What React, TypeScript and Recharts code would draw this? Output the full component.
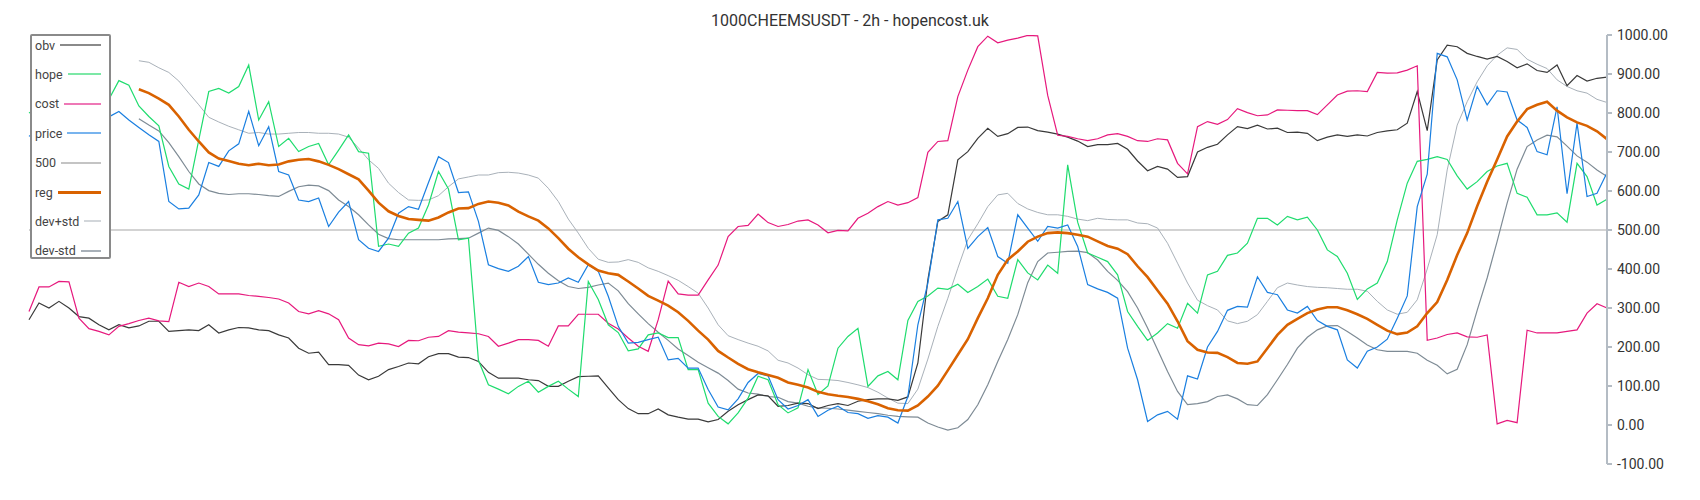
import React from "react";
import { Legend, Line, LineChart, XAxis, YAxis } from "recharts";

const TITLE = "1000CHEEMSUSDT - 2h - hopencost.uk";
const Y_TICKS = [-100, 0, 100, 200, 300, 400, 500, 600, 700, 800, 900, 1000];

// band / regression series start later than the rest
const LEAD = Array(11).fill(null);

const OBV = [
  270, 313, 300, 317, 300, 278, 274, 257, 244, 257, 249, 254, 266, 266, 240, 242, 244, 242, 257, 236, 244,
  250, 249, 244, 242, 231, 223, 197, 184, 187, 155, 155, 153, 128, 116, 125, 142, 150, 159, 157, 175,
  183, 183, 174, 173, 163, 135, 120, 120, 120, 116, 114, 99, 99, 112, 124, 125, 126, 95, 65, 42,
  29, 29, 41, 26, 20, 15, 15, 8, 14, 35, 52, 65, 77, 75, 48, 50, 56, 55, 42, 50,
  55, 50, 61, 65, 67, 67, 63, 72, 159, 372, 522, 539, 680, 701, 735, 761, 740, 747, 763, 764,
  755, 751, 746, 738, 728, 714, 719, 719, 722, 707, 677, 652, 663, 656, 635, 637, 700, 712, 720, 744,
  765, 760, 769, 759, 761, 750, 751, 748, 729, 738, 744, 740, 744, 741, 750, 754, 757, 774, 855, 755,
  936, 974, 970, 953, 945, 938, 945, 932, 916, 926, 909, 904, 923, 870, 896, 882, 889, 892,
];

const HOPE = [
  800, 815, 830, 820, 845, 830, 850, 840, 835, 883, 871, 818, 791, 767, 663, 618, 605, 731, 855, 863, 851,
  868, 923, 782, 829, 714, 735, 701, 714, 722, 667, 705, 744, 701, 697, 458, 464, 458, 492, 505, 564,
  650, 605, 475, 479, 166, 103, 92, 80, 99, 112, 84, 99, 112, 92, 73, 368, 322, 257, 237, 190,
  195, 231, 236, 224, 224, 142, 142, 56, 22, 3, 31, 69, 125, 116, 52, 31, 44, 142, 78, 100,
  197, 227, 248, 99, 126, 137, 116, 268, 317, 331, 351, 348, 361, 340, 355, 374, 330, 325, 424, 390,
  372, 410, 389, 667, 520, 441, 430, 419, 385, 291, 253, 217, 236, 260, 248, 312, 287, 385, 394, 435,
  441, 466, 530, 530, 513, 535, 526, 533, 500, 449, 432, 389, 322, 349, 364, 419, 526, 620, 676, 681,
  688, 681, 639, 605, 624, 650, 664, 671, 594, 584, 539, 539, 544, 520, 671, 637, 564, 579,
];

const COST = [
  291, 354, 354, 368, 367, 274, 247, 240, 231, 253, 260, 268, 274, 267, 265, 366, 355, 364, 355, 336, 336,
  336, 332, 330, 327, 323, 313, 291, 285, 293, 285, 270, 223, 206, 203, 210, 208, 201, 217, 216, 225,
  227, 242, 238, 236, 234, 227, 202, 210, 219, 219, 217, 202, 254, 254, 284, 284, 284, 261, 246, 223,
  202, 189, 270, 369, 336, 333, 333, 372, 410, 483, 509, 512, 541, 519, 509, 514, 523, 526, 513, 493,
  499, 498, 530, 543, 560, 573, 564, 570, 583, 699, 727, 729, 842, 910, 970, 997, 980, 987, 992, 999,
  998, 845, 743, 740, 734, 729, 734, 744, 747, 740, 729, 727, 734, 731, 671, 644, 765, 778, 771, 783,
  811, 801, 793, 795, 808, 807, 806, 806, 796, 821, 846, 856, 857, 855, 904, 902, 903, 910, 921, 217,
  223, 232, 236, 226, 225, 231, 3, 12, 6, 243, 236, 236, 236, 240, 244, 287, 311, 300,
];

const PRICE = [
  740, 760, 750, 770, 760, 775, 765, 780, 790, 804, 782, 763, 744, 727, 573, 554, 556, 590, 673, 663, 703,
  721, 804, 716, 765, 650, 641, 577, 573, 582, 509, 546, 573, 475, 453, 445, 479, 543, 560, 553, 622,
  688, 673, 596, 598, 522, 411, 401, 394, 407, 432, 366, 360, 364, 377, 366, 411, 394, 330, 253, 210,
  212, 219, 225, 167, 171, 146, 146, 91, 46, 39, 67, 109, 132, 126, 65, 41, 50, 65, 22, 38,
  48, 32, 29, 17, 24, 20, 5, 73, 257, 364, 526, 530, 573, 453, 483, 506, 432, 415, 539, 505,
  471, 509, 505, 513, 458, 360, 349, 340, 325, 197, 116, 9, 26, 35, 15, 126, 118, 200, 240, 294,
  304, 302, 380, 340, 334, 295, 287, 304, 268, 253, 244, 167, 146, 189, 200, 220, 274, 331, 560, 643,
  953, 944, 885, 782, 868, 821, 857, 854, 782, 763, 701, 693, 816, 593, 774, 586, 594, 647,
];

const LEVEL_500 = OBV.map(() => 500);

const REG = [
  ...LEAD, 861, 851, 837, 821, 791, 757, 727, 699, 683, 677,
  670, 666, 670, 666, 668, 676, 680, 682, 676, 667, 656, 643, 630, 601, 570, 548, 536, 528, 526, 524,
  532, 545, 555, 556, 567, 573, 570, 563, 547, 535, 524, 504, 479, 452, 430, 412, 396, 389, 385, 368,
  350, 331, 319, 306, 289, 267, 242, 219, 190, 173, 157, 143, 135, 128, 121, 109, 103, 96, 85, 79,
  75, 72, 67, 61, 53, 43, 38, 37, 50, 73, 101, 140, 180, 220, 274, 325, 385, 424, 445, 470,
  483, 492, 494, 492, 488, 483, 471, 459, 452, 438, 407, 379, 345, 311, 266, 215, 193, 186, 185, 174,
  159, 157, 163, 197, 231, 257, 272, 287, 296, 302, 302, 294, 284, 272, 257, 242, 233, 237, 253, 287,
  315, 372, 436, 492, 561, 624, 681, 740, 778, 810, 821, 829, 806, 789, 776, 767, 753, 733,
];

const DEV_PLUS = [
  ...LEAD, 934, 930, 916, 904, 882, 851, 821, 789, 777, 766,
  757, 748, 750, 746, 746, 748, 750, 750, 748, 748, 746, 738, 710, 680, 658, 620, 596, 577, 576, 577,
  588, 611, 631, 636, 641, 641, 647, 648, 646, 641, 633, 607, 573, 528, 492, 453, 425, 417, 418, 424,
  417, 403, 394, 383, 371, 355, 338, 300, 257, 229, 219, 210, 202, 190, 166, 159, 146, 129, 117, 116,
  114, 109, 103, 96, 84, 69, 56, 55, 92, 169, 253, 325, 402, 475, 516, 560, 590, 594, 568, 554,
  545, 539, 539, 535, 528, 524, 530, 527, 526, 526, 518, 516, 505, 466, 415, 364, 320, 306, 295, 267,
  260, 266, 283, 317, 352, 364, 359, 355, 353, 352, 350, 348, 348, 343, 317, 295, 284, 289, 321, 400,
  488, 654, 769, 829, 880, 921, 948, 967, 963, 938, 925, 914, 885, 868, 857, 851, 835, 827,
];

const DEV_MINUS = [
  ...LEAD, 785, 769, 754, 724, 688, 650, 618, 601, 594, 591,
  593, 593, 591, 588, 586, 599, 611, 615, 613, 601, 577, 560, 539, 513, 489, 478, 475, 475, 475, 475,
  475, 477, 478, 479, 492, 505, 499, 483, 464, 438, 412, 389, 370, 355, 350, 353, 359, 364, 344, 311,
  285, 260, 238, 217, 195, 178, 161, 147, 133, 114, 92, 82, 79, 73, 71, 60, 56, 48, 44, 43,
  41, 38, 35, 32, 29, 25, 22, 21, 20, 5, -5, -13, -7, 14, 52, 103, 163, 219, 283, 365,
  419, 441, 443, 445, 446, 442, 423, 394, 371, 342, 300, 249, 193, 137, 86, 52, 55, 60, 73, 77,
  67, 52, 50, 78, 116, 155, 197, 225, 244, 254, 255, 240, 223, 205, 193, 189, 189, 189, 184, 166,
  153, 131, 143, 206, 294, 377, 471, 569, 656, 714, 731, 743, 739, 715, 690, 674, 654, 637,
];

const SERIES = [
  { key: "obv", label: "obv", color: "#3a3a3a", swatch: "#8a8a8a", width: 1.2 },
  { key: "hope", label: "hope", color: "#1fdc6e", swatch: "#7ce8a6", width: 1.2 },
  { key: "cost", label: "cost", color: "#e6197d", swatch: "#ee78b6", width: 1.2 },
  { key: "price", label: "price", color: "#1a7fe0", swatch: "#78b4ee", width: 1.2 },
  { key: "l500", label: "500", color: "#c4c4c4", swatch: "#c4c4c4", width: 1.6 },
  { key: "reg", label: "reg", color: "#d96200", swatch: "#d96200", width: 2.6 },
  { key: "devp", label: "dev+std", color: "#a9b1b9", swatch: "#d2d6da", width: 1 },
  { key: "devm", label: "dev-std", color: "#7e8b95", swatch: "#a8b0b8", width: 1.2 },
];

const DRAW_ORDER = ["l500", "devp", "devm", "obv", "cost", "hope", "price", "reg"];

const data = OBV.map((v, i) => ({
  i,
  obv: v,
  hope: HOPE[i],
  cost: COST[i],
  price: PRICE[i],
  l500: LEVEL_500[i],
  reg: REG[i],
  devp: DEV_PLUS[i],
  devm: DEV_MINUS[i],
}));

function LegendBox() {
  return (
    <div
      style={{
        position: "relative",
        width: 81,
        height: 225,
        boxSizing: "border-box",
        border: "2px solid #8a8a8a",
        borderRadius: 2,
        background: "#fff",
        fontFamily: "Roboto, sans-serif",
        fontSize: 12.5,
        color: "#444",
      }}
    >
      {SERIES.map((s, k) => (
        <div
          key={s.key}
          style={{
            position: "absolute",
            left: 3,
            right: 8,
            top: 9 + k * 29.4 - 10,
            height: 20,
            display: "flex",
            alignItems: "center",
          }}
        >
          <span style={{ whiteSpace: "nowrap" }}>{s.label}</span>
          <span
            style={{
              flex: 1,
              marginLeft: 5,
              height: s.key === "reg" ? 3 : 2,
              background: s.swatch,
            }}
          />
        </div>
      ))}
    </div>
  );
}

export default function App() {
  return (
    <div
      style={{
        position: "absolute",
        left: 0,
        top: 0,
        width: 1700,
        height: 500,
        background: "#fff",
        fontFamily: "Roboto, sans-serif",
      }}
    >
      <div
        style={{
          position: "absolute",
          left: 0,
          top: 13,
          width: 1700,
          textAlign: "center",
          fontSize: 16,
          lineHeight: "16px",
          color: "#333",
        }}
      >
        {TITLE}
      </div>
      <LineChart
        width={1700}
        height={500}
        data={data}
        margin={{ top: 35, right: 0, bottom: 36, left: 29 }}
      >
        <XAxis dataKey="i" hide />
        <YAxis
          orientation="right"
          width={93}
          domain={[-100, 1000]}
          ticks={Y_TICKS}
          interval={0}
          allowDataOverflow
          tickFormatter={(v: number) => v.toFixed(2)}
          axisLine={{ stroke: "#b4bcc4", strokeWidth: 2 }}
          tickLine={{ stroke: "#b4bcc4", strokeWidth: 2 }}
          tickSize={5}
          tickMargin={5}
          tick={{ fill: "#333", fontSize: 14 }}
        />
        {DRAW_ORDER.map((key) => {
          const s = SERIES.find((x) => x.key === key)!;
          return (
            <Line
              key={key}
              type="linear"
              dataKey={key}
              name={s.label}
              stroke={s.color}
              strokeWidth={s.width}
              dot={false}
              activeDot={false}
              isAnimationActive={false}
            />
          );
        })}
        <Legend
          layout="vertical"
          align="center"
          verticalAlign="middle"
          content={() => <LegendBox />}
          wrapperStyle={{ left: 30, top: 34, width: 81, height: 225 }}
        />
      </LineChart>
    </div>
  );
}
